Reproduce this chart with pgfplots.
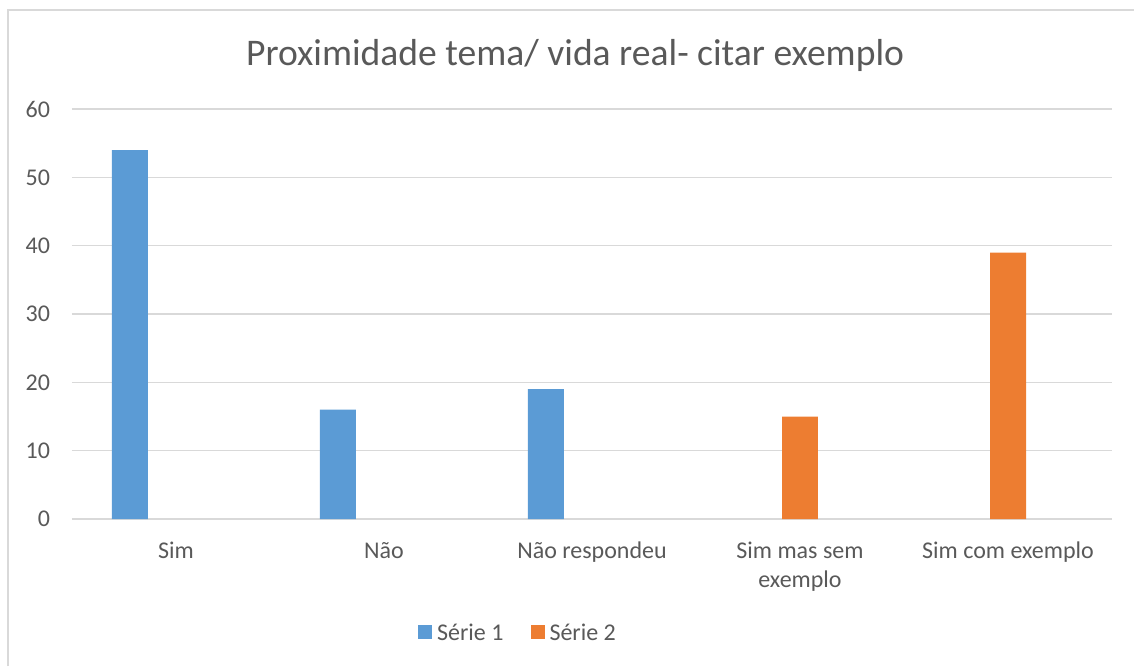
\documentclass[border=0pt]{standalone}
\usepackage{fontspec}
\setmainfont{Carlito}
\usepackage{pgfplots}
\pgfplotsset{compat=1.18}
\definecolor{serie1}{HTML}{5B9BD5}
\definecolor{serie2}{HTML}{ED7D31}
\definecolor{textgray}{HTML}{595959}
\definecolor{linegray}{HTML}{D9D9D9}

\begin{document}
\begin{tikzpicture}[x=1pt,y=1pt]
  \useasboundingbox (-36,-73.5) rectangle (531,259.5);
  \draw[linegray, line width=0.75pt] (-32,-73.5) -- (-32,254.5) -- (531,254.5);
  \begin{axis}[
      at={(0,0)}, anchor=south west,
      scale only axis,
      width=520pt, height=205pt,
      xmin=-0.5, xmax=4.5,
      ymin=0, ymax=60,
      ytick={0,10,...,60},
      xtick={0,...,4},
      xticklabels={Sim, Não, Não respondeu, {Sim mas sem\\exemplo}, Sim com exemplo},
      axis line style={draw=none},
      major tick length=0pt,
      ymajorgrids=true,
      grid style={draw=linegray, line width=0.75pt},
      tick label style={font=\fontsize{12}{14.5}\selectfont, text=textgray},
      /pgf/number format/assume math mode=true,
      yticklabel style={xshift=-7.5pt},
      xticklabel style={align=center, yshift=-8pt},
      title={Proximidade tema/ vida real- citar exemplo},
      title style={at={(0.4837,1.1073)}, anchor=base, yshift=-6pt,
        font=\fontsize{18.8}{22}\selectfont, text=textgray},
      legend columns=2,
      legend style={at={(0.4303,-0.2805)}, anchor=center, draw=none,
        inner sep=0pt, font=\fontsize{12}{14.5}\selectfont, text=textgray,
        nodes={inner xsep=2.5pt},
        /tikz/every even column/.append style={column sep=11pt}},
      legend image code/.code={\fill[#1] (0pt,-2.5pt) rectangle (7pt,4.5pt);},
    ]
    \addplot[ybar, bar width=0.173, bar shift=-0.222, fill=serie1, draw=none, forget plot]
      coordinates {(0,54) (1,16) (2,19)};
    \addplot[ybar, bar width=0.173, bar shift=0, fill=serie2, draw=none, forget plot]
      coordinates {(3,15) (4,39)};
    \addlegendimage{fill=serie1, draw=none}
    \addlegendentry{Série 1}
    \addlegendimage{fill=serie2, draw=none}
    \addlegendentry{Série 2}
  \end{axis}
\end{tikzpicture}
\end{document}
